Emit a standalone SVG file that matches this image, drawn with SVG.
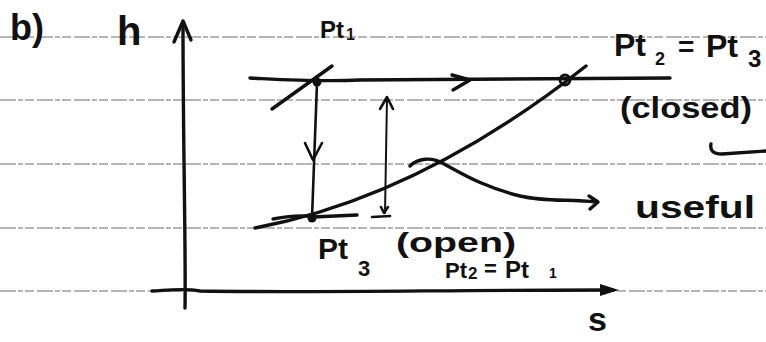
<svg xmlns="http://www.w3.org/2000/svg" width="766" height="342" viewBox="0 0 766 342">
<defs>
<style>
.rule{stroke:#6e6e6e;stroke-width:1.2;stroke-dasharray:16 2 5 2 9 3;fill:none}
.ink{stroke:#111;fill:none;stroke-linecap:round;stroke-linejoin:round}
.thick{stroke-width:3.4}
.mid{stroke-width:2.6}
.thin{stroke-width:2}
.txt{font-family:"Liberation Sans","DejaVu Sans",sans-serif;font-weight:bold;fill:#111}
</style>
</defs>
<rect width="766" height="342" fill="#fff"/>
<g id="ruled-lines">
<line class="rule" x1="0" y1="37" x2="766" y2="37"/>
<line class="rule" x1="0" y1="100" x2="766" y2="100"/>
<line class="rule" x1="0" y1="164" x2="766" y2="164"/>
<line class="rule" x1="0" y1="228" x2="766" y2="228"/>
<line class="rule" x1="0" y1="291" x2="766" y2="291"/>
</g>
<g id="axes">
<path class="ink thick" d="M185,308 C186,250 183,150 183,22"/>
<path class="ink thick" d="M174,42 L183,21 L191,40"/>
<path class="ink thick" d="M152,291 C170,290 185,288 200,291 C300,293 450,290 604,290"/>
<path d="M600,284 L619,290 L600,296 Z" fill="#111"/>
</g>
<g id="connectors">
<path class="ink thick" d="M250,78 C290,80 320,82 360,80 C450,79 560,79 670,78"/>
<path class="ink thick" d="M452,75 L470,80 L453,90"/>
<path class="ink thick" d="M272,109 L332,66"/>
<path class="ink thick" d="M255,228 Q420,197 586,66"/>
<path class="ink thick" d="M273,219 Q300,214 313,217 Q335,216 357,215"/>
<path class="ink mid" d="M317,83 L312,218"/>
<path class="ink mid" d="M305,143 L313,160 L322,143"/>
<path class="ink thin" d="M387,98 L385,213"/>
<path class="ink mid" d="M380,109 L387,97 L393,109"/>
<path class="ink mid" d="M381,207 L384,213 L388,207"/>
<path class="ink mid" d="M372,217 L390,216"/>
<path class="ink thick" d="M410,166 C418,158 432,157 442,163 C460,172 480,186 520,196 C545,202 570,199 596,202"/>
<path class="ink thick" d="M589,196 L598,202 L590,209"/>
<path class="ink thick" d="M711,144 Q709,154 722,154 L766,151"/>
</g>
<g id="pt1">
<circle cx="317" cy="82" r="4.5" fill="#111"/>
<text class="txt" font-size="24"><tspan x="320" y="38">Pt</tspan><tspan x="346" y="40" font-size="16">1</tspan></text>
</g>
<g id="pt2">
<circle cx="565" cy="80" r="5" fill="none" stroke="#111" stroke-width="3"/>
<text class="txt" font-size="32"><tspan x="614" y="56">Pt</tspan><tspan x="655" y="65" font-size="18">2</tspan><tspan x="678" y="56" font-size="28">=</tspan><tspan x="706" y="57">Pt</tspan><tspan x="748" y="67" font-size="24">3</tspan></text>
<text class="txt" x="620" y="118" font-size="30" textLength="132" lengthAdjust="spacingAndGlyphs">(closed)</text>
</g>
<g id="pt3">
<circle cx="312" cy="218" r="4.5" fill="#111"/>
<text class="txt" font-size="30"><tspan x="318" y="259">Pt</tspan><tspan x="358" y="276" font-size="22">3</tspan></text>
<text class="txt" x="396" y="252" font-size="28" textLength="120" lengthAdjust="spacingAndGlyphs">(open)</text>
<text class="txt" font-size="22"><tspan x="445" y="278">Pt</tspan><tspan x="468" y="279" font-size="17">2</tspan><tspan x="484" y="276" font-size="22">=</tspan><tspan x="505" y="278" font-size="24">Pt</tspan><tspan x="549" y="278" font-size="14">1</tspan></text>
</g>
<g id="labels">
<text class="txt" x="10" y="40" font-size="36">b)</text>
<text class="txt" x="117" y="45" font-size="40">h</text>
<text class="txt" x="635" y="218" font-size="32" textLength="120" lengthAdjust="spacingAndGlyphs">useful</text>
<text class="txt" x="588" y="331" font-size="34">s</text>
</g>
</svg>
